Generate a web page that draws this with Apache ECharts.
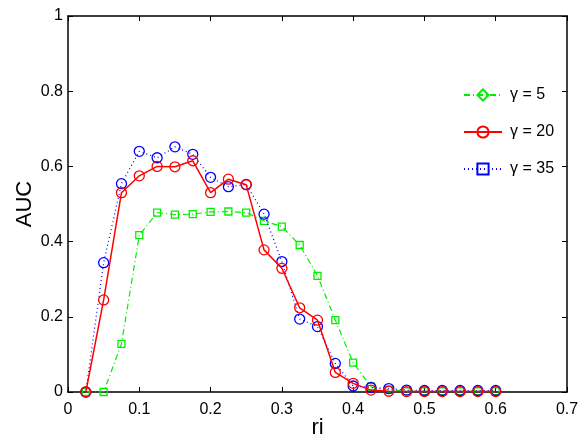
<!DOCTYPE html>
<html>
<head>
<meta charset="utf-8">
<script src="https://cdn.jsdelivr.net/npm/echarts@6/dist/echarts.min.js"></script>
<style>html,body{margin:0;padding:0;background:#fff}#c{width:579px;height:438px}</style>
</head>
<body>
<div id="c"></div>
<script>
var ri = [0.025,0.05,0.075,0.1,0.125,0.15,0.175,0.2,0.225,0.25,0.275,0.3,0.325,0.35,0.375,0.4,0.425,0.45,0.475,0.5,0.525,0.55,0.575,0.6];
var auc5  = [0,0,0.128,0.417,0.477,0.472,0.473,0.479,0.480,0.477,0.455,0.440,0.391,0.309,0.191,0.078,0.014,0.006,0.002,0.002,0.002,0.002,0.002,0.002];
var auc20 = [0,0.245,0.530,0.575,0.600,0.599,0.615,0.530,0.566,0.551,0.378,0.329,0.224,0.191,0.052,0.023,0.005,0.002,0.001,0.001,0.001,0.001,0.001,0.001];
var auc35 = [0,0.344,0.554,0.640,0.623,0.652,0.632,0.571,0.546,0.552,0.473,0.347,0.194,0.174,0.076,0.016,0.012,0.009,0.005,0.004,0.004,0.004,0.004,0.004];
var names = ['γ = 5','γ = 20','γ = 35'];

function pts(ys, sym, size){ return ri.map(function(x,i){ return {value:[x, ys[i]], symbol: sym, symbolSize: size}; }); }

var font = 'Liberation Sans, Arial, sans-serif';
var axisCommon = {
  type:'value',
  axisLine:{show:true,onZero:false,lineStyle:{color:'#000',width:1.5}},
  axisTick:{show:true,inside:true,length:5,lineStyle:{color:'#000'}},
  splitLine:{show:false}
};
var chart = echarts.init(document.getElementById('c'));
chart.setOption({
  animation:false,
  backgroundColor:'#fff',
  grid:{left:68,right:12,top:16,bottom:46,containLabel:false,outerBoundsMode:'none'},
  legend:{
    orient:'vertical', left:458, top:82, itemWidth:38, itemHeight:14, itemGap:21,
    textStyle:{fontFamily:font,fontSize:16,color:'#000',padding:[0,0,0,3]},
    data:names
  },
  xAxis:[
    Object.assign({}, axisCommon, {min:0,max:0.7,interval:0.1,position:'bottom',
      name:'ri',nameLocation:'middle',nameGap:25,nameMoveOverlap:false,nameTextStyle:{fontFamily:font,fontSize:22,color:'#000'},
      axisLabel:{fontFamily:font,fontSize:16,color:'#000',margin:10,formatter:function(v){return String(+v.toFixed(1));}}}),
    Object.assign({}, axisCommon, {min:0,max:0.7,interval:0.1,position:'top',axisLabel:{show:false}})
  ],
  yAxis:[
    Object.assign({}, axisCommon, {min:0,max:1,interval:0.2,position:'left',
      name:'AUC',nameLocation:'middle',nameGap:32,nameMoveOverlap:false,nameTextStyle:{fontFamily:font,fontSize:22,color:'#000'},
      axisLabel:{fontFamily:font,fontSize:16,color:'#000',margin:5,formatter:function(v){return String(+v.toFixed(1));}}}),
    Object.assign({}, axisCommon, {min:0,max:1,interval:0.2,position:'right',axisLabel:{show:false}})
  ],
  series:[
    {name:names[0],type:'line',data:pts(auc5,'rect',7),symbol:'diamond',symbolSize:9,
     itemStyle:{color:'rgba(0,0,0,0)',borderColor:'#00ee00',borderWidth:1.3},
     lineStyle:{color:'#00ee00',width:1.2,type:[6,3,1,3]},showAllSymbol:true,z:1},
    {name:names[1],type:'line',data:pts(auc20,'circle',10),symbol:'circle',symbolSize:9,
     itemStyle:{color:'rgba(0,0,0,0)',borderColor:'#ff0000',borderWidth:1.3},
     lineStyle:{color:'#ff0000',width:1.5,type:'solid'},showAllSymbol:true,z:3},
    {name:names[2],type:'line',data:pts(auc35,'circle',10),symbol:'rect',symbolSize:7,
     itemStyle:{color:'rgba(0,0,0,0)',borderColor:'#0000ff',borderWidth:1.3},
     lineStyle:{color:'#0000ff',width:1.2,type:[1,3]},showAllSymbol:true,z:2}
  ]
});
</script>
</body>
</html>
